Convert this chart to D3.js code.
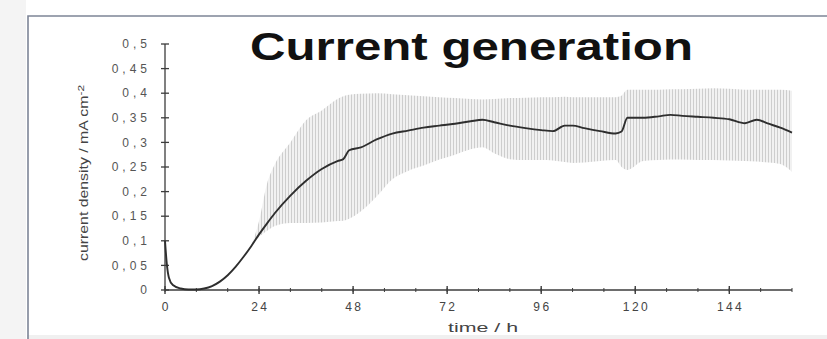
<!DOCTYPE html>
<html>
<head>
<meta charset="utf-8">
<script src="https://cdn.jsdelivr.net/npm/d3@7"></script>
<style>
  html, body { margin: 0; padding: 0; background: #ffffff; }
  svg { display: block; font-family: "Liberation Sans", Arial, sans-serif; }
</style>
</head>
<body>
<svg id="chart" width="827" height="339"></svg>
<script>
// Sampling times (h)
const times = [0, 0.5, 1, 2, 4, 6, 8, 10, 12, 14, 16, 18, 20, 22, 24, 26, 28, 32, 36, 40, 44, 45.5, 47,
  50, 54, 58, 62, 66, 70, 74, 78, 81, 84, 88, 92, 96, 99, 102, 104, 107, 111, 115, 116.5, 118, 122,
  126, 129, 132, 136, 140, 144, 148, 151, 154, 157, 160];

// Mean current density (mA cm^-2)
const meanDensity = [0.100, 0.050, 0.025, 0.010, 0.003, 0.001, 0.001, 0.003, 0.008, 0.017, 0.030, 0.047,
  0.067, 0.089, 0.113, 0.135, 0.156, 0.192, 0.222, 0.246, 0.262, 0.266, 0.284, 0.290, 0.306, 0.318,
  0.324, 0.330, 0.334, 0.338, 0.343, 0.346, 0.341, 0.334, 0.329, 0.325, 0.323, 0.334, 0.334, 0.329,
  0.323, 0.318, 0.322, 0.350, 0.350, 0.353, 0.356, 0.354, 0.352, 0.350, 0.347, 0.339, 0.346, 0.338,
  0.330, 0.320];

// Spread band (lower / upper), only present from 22 h on
const bandLower = [null, null, null, null, null, null, null, null, null, null, null, null, null,
  0.089, 0.108, 0.120, 0.130, 0.136, 0.136, 0.137, 0.140, 0.141, 0.145, 0.160, 0.190, 0.225, 0.242,
  0.253, 0.265, 0.275, 0.286, 0.290, 0.278, 0.266, 0.264, 0.264, 0.263, 0.260, 0.258, 0.259, 0.262,
  0.264, 0.250, 0.244, 0.262, 0.264, 0.265, 0.265, 0.264, 0.264, 0.263, 0.262, 0.261, 0.259, 0.256,
  0.240];
const bandUpper = [null, null, null, null, null, null, null, null, null, null, null, null, null,
  0.089, 0.140, 0.215, 0.255, 0.300, 0.345, 0.365, 0.388, 0.394, 0.397, 0.399, 0.400, 0.398, 0.396,
  0.394, 0.392, 0.390, 0.388, 0.387, 0.388, 0.390, 0.391, 0.392, 0.392, 0.393, 0.392, 0.392, 0.392,
  0.392, 0.395, 0.407, 0.407, 0.407, 0.408, 0.408, 0.409, 0.410, 0.409, 0.407, 0.407, 0.407, 0.407,
  0.405];

// Axis ticks
const yTicks = [0, 0.05, 0.1, 0.15, 0.2, 0.25, 0.3, 0.35, 0.4, 0.45, 0.5];
const yTickLabels = ["0", "0,05", "0,1", "0,15", "0,2", "0,25", "0,3", "0,35", "0,4", "0,45", "0,5"];
const xTicks = [0, 24, 48, 72, 96, 120, 144];
const xTickLabels = ["0", "24", "48", "72", "96", "120", "144"];
const xMinorTicks = d3.range(0, 161, 8);

const titleText = "Current generation";
const xLabelText = "time / h";

const svg = d3.select("#chart");

// Striped fill for the spread band
const defs = svg.append("defs");
const stripe = defs.append("pattern")
  .attr("id", "band-stripes")
  .attr("patternUnits", "userSpaceOnUse")
  .attr("width", 3).attr("height", 8);
stripe.append("rect").attr("width", 3).attr("height", 8).attr("fill", "#f1f1f1");
stripe.append("line").attr("x1", 0.5).attr("x2", 0.5).attr("y1", 0).attr("y2", 8)
  .attr("stroke", "#cdcdcd").attr("stroke-width", 1);

// Outer frame
svg.append("rect").attr("x", 0).attr("y", 0).attr("width", 26).attr("height", 339).attr("fill", "#f4f4f4");
svg.append("rect").attr("x", 27).attr("y", 335).attr("width", 800).attr("height", 4).attr("fill", "#f0f0f0");
svg.append("path")
  .attr("d", "M28,339 V16 H827")
  .attr("fill", "none")
  .attr("stroke", "#7d8597")
  .attr("stroke-width", 1.6);

// Scales
const x = d3.scaleLinear().domain([0, 160]).range([165, 792]);
const y = d3.scaleLinear().domain([0, 0.5]).range([290, 44]);

const rows = times.map((t, i) => ({ t, m: meanDensity[i], lo: bandLower[i], hi: bandUpper[i] }));

// Spread band
const area = d3.area()
  .defined(d => d.lo !== null && d.hi !== null)
  .x(d => x(d.t))
  .y0(d => y(d.lo))
  .y1(d => y(d.hi))
  .curve(d3.curveMonotoneX);
svg.append("path")
  .datum(rows)
  .attr("d", area)
  .attr("fill", "url(#band-stripes)");

// Axes
const axisColor = "#3c3c3c";
svg.append("line").attr("x1", x(0)).attr("x2", x(0)).attr("y1", y(0.5)).attr("y2", y(0))
  .attr("stroke", axisColor).attr("stroke-width", 1.3);
svg.append("line").attr("x1", x(0)).attr("x2", x(160)).attr("y1", y(0)).attr("y2", y(0))
  .attr("stroke", axisColor).attr("stroke-width", 1.3);

svg.append("g").selectAll("line").data(yTicks).join("line")
  .attr("x1", x(0) - 4).attr("x2", x(0) + 4)
  .attr("y1", d => y(d)).attr("y2", d => y(d))
  .attr("stroke", axisColor).attr("stroke-width", 1.3);

svg.append("g").selectAll("line").data(xMinorTicks).join("line")
  .attr("x1", d => x(d)).attr("x2", d => x(d))
  .attr("y1", y(0) - 2).attr("y2", y(0) + 2)
  .attr("stroke", axisColor).attr("stroke-width", 1);
svg.append("g").selectAll("line").data(xTicks).join("line")
  .attr("x1", d => x(d)).attr("x2", d => x(d))
  .attr("y1", y(0) - 4).attr("y2", y(0) + 4)
  .attr("stroke", axisColor).attr("stroke-width", 1.4);

// Tick labels
svg.append("g").selectAll("text").data(yTicks).join("text")
  .attr("x", 151)
  .attr("y", d => y(d))
  .attr("dy", "0.35em")
  .attr("text-anchor", "end")
  .attr("font-size", 12)
  .attr("letter-spacing", 4)
  .attr("fill", "#555")
  .text((d, i) => yTickLabels[i]);

svg.append("g").selectAll("text").data(xTicks).join("text")
  .attr("x", d => x(d) + 1.2)
  .attr("y", 311)
  .attr("text-anchor", "middle")
  .attr("font-size", 12)
  .attr("letter-spacing", 2.4)
  .attr("fill", "#444")
  .text((d, i) => xTickLabels[i]);

// Mean curve
const line = d3.line()
  .x(d => x(d.t))
  .y(d => y(d.m))
  .curve(d3.curveMonotoneX);
svg.append("path")
  .datum(rows)
  .attr("d", line)
  .attr("fill", "none")
  .attr("stroke", "#2e2e2e")
  .attr("stroke-width", 1.9);

// Title
svg.append("text")
  .attr("x", 250).attr("y", 60)
  .attr("font-size", 39)
  .attr("font-weight", "bold")
  .attr("textLength", 443)
  .attr("lengthAdjust", "spacingAndGlyphs")
  .attr("fill", "#111")
  .text(titleText);

// Axis titles
svg.append("text")
  .attr("x", 483).attr("y", 332)
  .attr("text-anchor", "middle")
  .attr("font-size", 13)
  .attr("textLength", 70)
  .attr("lengthAdjust", "spacingAndGlyphs")
  .attr("fill", "#444")
  .text(xLabelText);

const yLabel = svg.append("text")
  .attr("transform", "translate(88,173) rotate(-90)")
  .attr("text-anchor", "middle")
  .attr("font-size", 12)
  .attr("textLength", 176)
  .attr("lengthAdjust", "spacingAndGlyphs")
  .attr("fill", "#444");
yLabel.append("tspan").text("current density / mA cm");
yLabel.append("tspan").attr("dy", -4).attr("font-size", 9).text("-2");
</script>
</body>
</html>
